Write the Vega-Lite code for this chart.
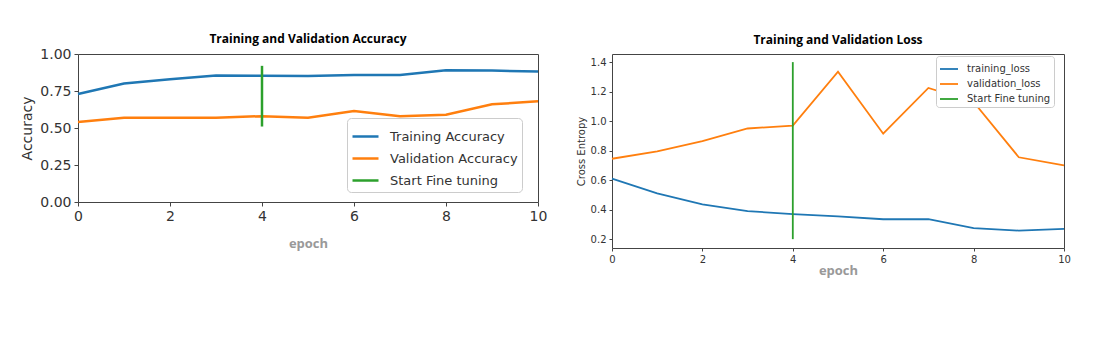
{
  "$schema": "https://vega.github.io/schema/vega-lite/v6.json",
  "background": "white",
  "padding": {"left": 20, "top": 32, "right": 5, "bottom": 5},
  "autosize": {"type": "pad"},
  "spacing": 27,
  "resolve": {"scale": {"color": "independent"}, "legend": {"color": "independent"}},
  "config": {
    "view": {"stroke": "#444", "strokeWidth": 1},
    "axis": {"grid": false, "domain": false, "tickColor": "#444", "tickSize": 4, "labelColor": "#333", "labelFont": "DejaVu Sans", "labelPadding": 3, "labelOverlap": false, "tickCount": 30},
    "title": {"font": "Open Sans", "fontWeight": "bold", "fontSize": 12, "color": "#000", "anchor": "middle"}
  },
  "datasets": {
    "acc": [
      {"epoch": 0, "series": "Training Accuracy", "value": 0.73},
      {"epoch": 1, "series": "Training Accuracy", "value": 0.80},
      {"epoch": 2, "series": "Training Accuracy", "value": 0.83},
      {"epoch": 3, "series": "Training Accuracy", "value": 0.855},
      {"epoch": 4, "series": "Training Accuracy", "value": 0.853},
      {"epoch": 5, "series": "Training Accuracy", "value": 0.852},
      {"epoch": 6, "series": "Training Accuracy", "value": 0.858},
      {"epoch": 7, "series": "Training Accuracy", "value": 0.858},
      {"epoch": 8, "series": "Training Accuracy", "value": 0.89},
      {"epoch": 9, "series": "Training Accuracy", "value": 0.888},
      {"epoch": 10, "series": "Training Accuracy", "value": 0.882},
      {"epoch": 0, "series": "Validation Accuracy", "value": 0.54},
      {"epoch": 1, "series": "Validation Accuracy", "value": 0.57},
      {"epoch": 2, "series": "Validation Accuracy", "value": 0.57},
      {"epoch": 3, "series": "Validation Accuracy", "value": 0.57},
      {"epoch": 4, "series": "Validation Accuracy", "value": 0.58},
      {"epoch": 5, "series": "Validation Accuracy", "value": 0.57},
      {"epoch": 6, "series": "Validation Accuracy", "value": 0.615},
      {"epoch": 7, "series": "Validation Accuracy", "value": 0.58},
      {"epoch": 8, "series": "Validation Accuracy", "value": 0.59},
      {"epoch": 9, "series": "Validation Accuracy", "value": 0.66},
      {"epoch": 10, "series": "Validation Accuracy", "value": 0.68}
    ],
    "accft": [
      {"epoch": 4, "series": "Start Fine tuning", "y1": 0.51, "y2": 0.92}
    ],
    "loss": [
      {"epoch": 0, "series": "training_loss", "value": 0.61},
      {"epoch": 1, "series": "training_loss", "value": 0.51},
      {"epoch": 2, "series": "training_loss", "value": 0.435},
      {"epoch": 3, "series": "training_loss", "value": 0.39},
      {"epoch": 4, "series": "training_loss", "value": 0.37},
      {"epoch": 5, "series": "training_loss", "value": 0.355},
      {"epoch": 6, "series": "training_loss", "value": 0.335},
      {"epoch": 7, "series": "training_loss", "value": 0.335},
      {"epoch": 8, "series": "training_loss", "value": 0.275},
      {"epoch": 9, "series": "training_loss", "value": 0.258},
      {"epoch": 10, "series": "training_loss", "value": 0.27},
      {"epoch": 0, "series": "validation_loss", "value": 0.745},
      {"epoch": 1, "series": "validation_loss", "value": 0.795},
      {"epoch": 2, "series": "validation_loss", "value": 0.865},
      {"epoch": 3, "series": "validation_loss", "value": 0.95},
      {"epoch": 4, "series": "validation_loss", "value": 0.97},
      {"epoch": 5, "series": "validation_loss", "value": 1.335},
      {"epoch": 6, "series": "validation_loss", "value": 0.915},
      {"epoch": 7, "series": "validation_loss", "value": 1.225},
      {"epoch": 8, "series": "validation_loss", "value": 1.13},
      {"epoch": 9, "series": "validation_loss", "value": 0.755},
      {"epoch": 10, "series": "validation_loss", "value": 0.70}
    ],
    "lossft": [
      {"epoch": 4, "series": "Start Fine tuning", "y1": 0.2, "y2": 1.4}
    ]
  },
  "hconcat": [
    {
      "width": 460,
      "height": 148,
      "title": {"text": "Training and Validation Accuracy", "offset": 1},
      "layer": [
        {
          "data": {"name": "acc"},
          "mark": {"type": "line", "strokeWidth": 2.5},
          "encoding": {
            "x": {"field": "epoch", "type": "quantitative", "scale": {"domain": [0, 10], "nice": false},
              "axis": {"values": [0, 2, 4, 6, 8, 10], "tickCount": 30, "format": "d", "labelFlush": false, "labelFontSize": 14, "labelOverlap": false,
                "title": "epoch", "titleColor": "#999", "titleFont": "Open Sans", "titleFontWeight": "bold", "titleFontSize": 13, "titlePadding": 14}},
            "y": {"field": "value", "type": "quantitative", "scale": {"domain": [0, 1], "nice": false},
              "axis": {"values": [0, 0.25, 0.5, 0.75, 1], "tickCount": 30, "format": ".2f", "labelFontSize": 14, "labelOverlap": false,
                "title": "Accuracy", "titleFont": "DejaVu Sans", "titleFontWeight": "normal", "titleFontSize": 14, "titleColor": "#333", "titlePadding": 5}},
            "color": {"field": "series", "type": "nominal",
              "scale": {"domain": ["Training Accuracy", "Validation Accuracy", "Start Fine tuning"], "range": ["#1f77b4", "#ff7f0e", "#2ca02c"]},
              "legend": {"orient": "none", "legendX": 269, "legendY": 64, "title": null, "fillColor": "white", "strokeColor": "#ccc", "cornerRadius": 4, "padding": 4,
                "labelFontSize": 13, "labelFont": "DejaVu Sans", "labelColor": "#333", "symbolType": "stroke", "symbolStrokeWidth": 2.5, "symbolSize": 676, "rowPadding": -6, "labelOffset": 10}}
          }
        },
        {
          "data": {"name": "accft"},
          "mark": {"type": "rule", "strokeWidth": 2.5},
          "encoding": {
            "x": {"field": "epoch", "type": "quantitative"},
            "y": {"field": "y1", "type": "quantitative"},
            "y2": {"field": "y2"},
            "color": {"field": "series", "type": "nominal"}
          }
        }
      ]
    },
    {
      "width": 452,
      "height": 194,
      "title": {"text": "Training and Validation Loss", "offset": 7},
      "layer": [
        {
          "data": {"name": "loss"},
          "mark": {"type": "line", "strokeWidth": 1.8},
          "encoding": {
            "x": {"field": "epoch", "type": "quantitative", "scale": {"domain": [0, 10], "nice": false},
              "axis": {"values": [0, 2, 4, 6, 8, 10], "tickCount": 30, "format": "d", "labelFlush": false, "labelFontSize": 10, "tickSize": 3, "labelOverlap": false,
                "title": "epoch", "titleColor": "#999", "titleFont": "Open Sans", "titleFontWeight": "bold", "titleFontSize": 13, "titlePadding": 0}},
            "y": {"field": "value", "type": "quantitative", "scale": {"domain": [0.14, 1.455], "nice": false, "zero": false},
              "axis": {"values": [0.2, 0.4, 0.6, 0.8, 1.0, 1.2, 1.4], "tickCount": 30, "format": ".1f", "labelFontSize": 10, "tickSize": 3, "labelOverlap": false,
                "title": "Cross Entropy", "titleFont": "DejaVu Sans", "titleFontWeight": "normal", "titleFontSize": 10, "titleColor": "#333", "titlePadding": 4}},
            "color": {"field": "series", "type": "nominal",
              "scale": {"domain": ["training_loss", "validation_loss", "Start Fine tuning"], "range": ["#1f77b4", "#ff7f0e", "#2ca02c"]},
              "legend": {"orient": "none", "legendX": 324, "legendY": 2, "title": null, "fillColor": "white", "strokeColor": "#ccc", "cornerRadius": 3, "padding": 3,
                "labelFontSize": 10, "labelFont": "DejaVu Sans", "labelColor": "#333", "symbolType": "stroke", "symbolStrokeWidth": 1.8, "symbolSize": 324, "rowPadding": -3.5, "labelOffset": 8}}
          }
        },
        {
          "data": {"name": "lossft"},
          "mark": {"type": "rule", "strokeWidth": 1.8},
          "encoding": {
            "x": {"field": "epoch", "type": "quantitative"},
            "y": {"field": "y1", "type": "quantitative"},
            "y2": {"field": "y2"},
            "color": {"field": "series", "type": "nominal"}
          }
        }
      ]
    }
  ]
}
